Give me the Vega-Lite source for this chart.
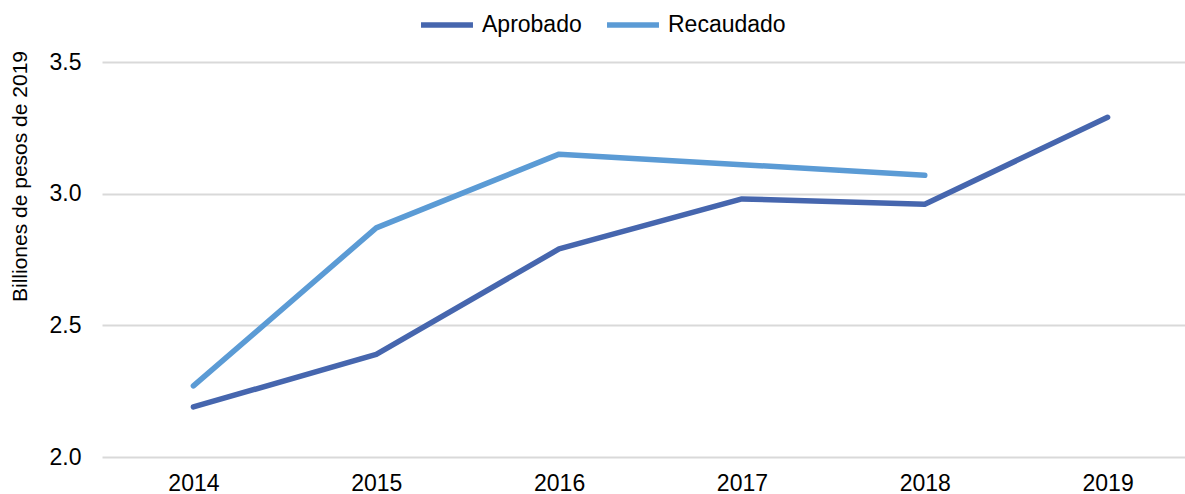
{
  "$schema": "https://vega.github.io/schema/vega-lite/v6.json",
  "width": 1097,
  "height": 395,
  "autosize": {"type": "none"},
  "padding": {"left": 102, "top": 62, "right": 0, "bottom": 37},
  "background": "white",
  "data": {"values": [
    {"year": "2014", "serie": "Aprobado", "v": 2.19},
    {"year": "2015", "serie": "Aprobado", "v": 2.39},
    {"year": "2016", "serie": "Aprobado", "v": 2.79},
    {"year": "2017", "serie": "Aprobado", "v": 2.98},
    {"year": "2018", "serie": "Aprobado", "v": 2.96},
    {"year": "2019", "serie": "Aprobado", "v": 3.29},
    {"year": "2014", "serie": "Recaudado", "v": 2.27},
    {"year": "2015", "serie": "Recaudado", "v": 2.87},
    {"year": "2016", "serie": "Recaudado", "v": 3.15},
    {"year": "2017", "serie": "Recaudado", "v": 3.11},
    {"year": "2018", "serie": "Recaudado", "v": 3.07}
  ]},
  "config": {
    "font": "Liberation Sans",
    "view": {"stroke": null},
    "axis": {"labelColor": "#000000", "titleColor": "#000000", "labelFont": "Liberation Sans", "titleFont": "Liberation Sans"}
  },
  "mark": {"type": "line", "strokeWidth": 5.5, "strokeCap": "round", "strokeJoin": "round"},
  "encoding": {
    "x": {
      "field": "year", "type": "ordinal",
      "scale": {"type": "point", "padding": 0.5},
      "axis": {"title": null, "labelAngle": 0, "labelFontSize": 23, "ticks": false, "domain": false, "grid": false, "labelPadding": 15}
    },
    "y": {
      "field": "v", "type": "quantitative",
      "scale": {"domain": [2.0, 3.5], "nice": false},
      "axis": {
        "values": [2.0, 2.5, 3.0, 3.5], "format": ".1f",
        "title": "Billiones de pesos de 2019", "titleFontSize": 21, "titleFontWeight": "normal",
        "titleY": 114, "titleX": -82, "titleAngle": -90, "titleAlign": "center", "titleBaseline": "middle",
        "labelFontSize": 23, "ticks": false, "domain": false, "labelPadding": 21,
        "gridColor": "#d9d9d9", "gridWidth": 2
      }
    },
    "color": {
      "field": "serie", "type": "nominal",
      "scale": {"domain": ["Aprobado", "Recaudado"], "range": ["#4666ae", "#5b9bd5"]},
      "legend": {
        "title": null, "orient": "none", "direction": "horizontal",
        "legendX": 316, "legendY": -66,
        "symbolType": "stroke", "symbolSize": 2700, "symbolStrokeWidth": 5.5,
        "labelFontSize": 23, "labelColor": "#000000", "columnPadding": 14, "labelOffset": 6
      }
    }
  }
}
